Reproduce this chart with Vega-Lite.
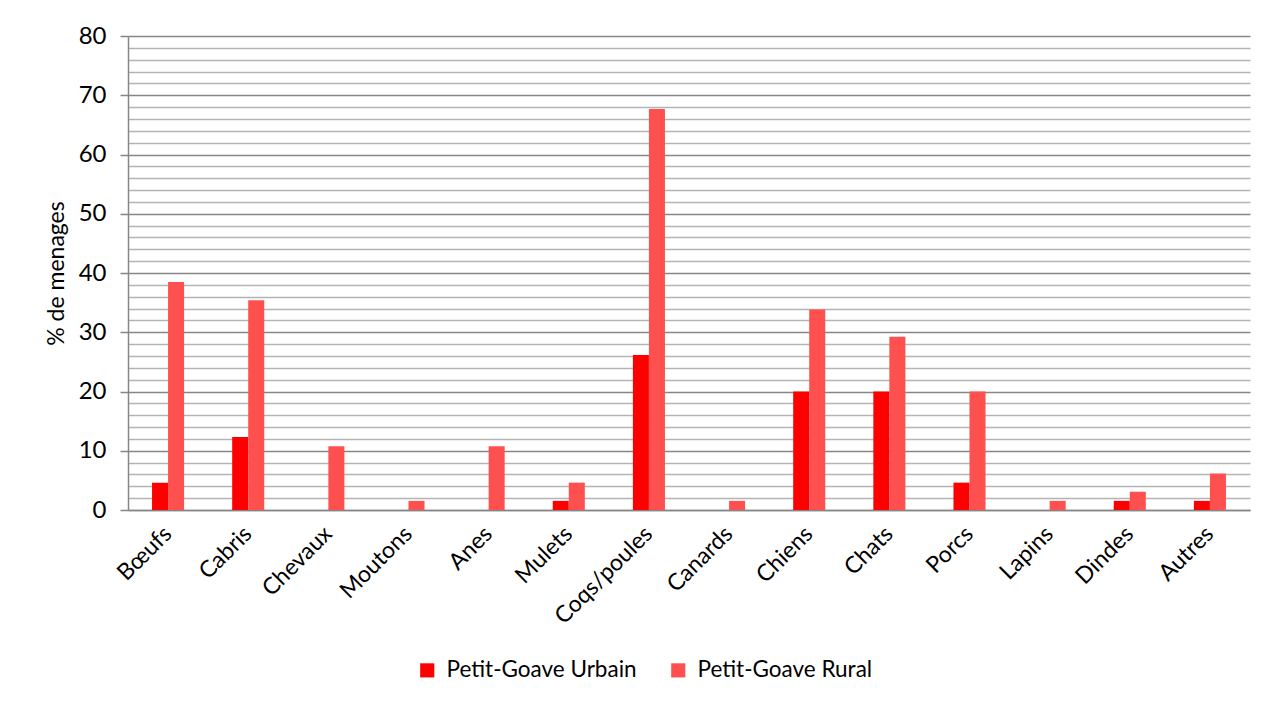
{
  "$schema": "https://vega.github.io/schema/vega-lite/v6.json",
  "width": 1122,
  "height": 474,
  "autosize": {"type": "none"},
  "padding": {"left": 128, "top": 36, "right": 23, "bottom": 208},
  "background": "white",
  "config": {
    "font": "Lato",
    "view": {"stroke": null}
  },
  "data": {
    "values": [
      {"animal": "Bœufs", "zone": "Petit-Goave Urbain", "pct": 4.62},
      {"animal": "Bœufs", "zone": "Petit-Goave Rural", "pct": 38.46},
      {"animal": "Cabris", "zone": "Petit-Goave Urbain", "pct": 12.31},
      {"animal": "Cabris", "zone": "Petit-Goave Rural", "pct": 35.38},
      {"animal": "Chevaux", "zone": "Petit-Goave Urbain", "pct": 0},
      {"animal": "Chevaux", "zone": "Petit-Goave Rural", "pct": 10.77},
      {"animal": "Moutons", "zone": "Petit-Goave Urbain", "pct": 0},
      {"animal": "Moutons", "zone": "Petit-Goave Rural", "pct": 1.54},
      {"animal": "Anes", "zone": "Petit-Goave Urbain", "pct": 0},
      {"animal": "Anes", "zone": "Petit-Goave Rural", "pct": 10.77},
      {"animal": "Mulets", "zone": "Petit-Goave Urbain", "pct": 1.54},
      {"animal": "Mulets", "zone": "Petit-Goave Rural", "pct": 4.62},
      {"animal": "Coqs/poules", "zone": "Petit-Goave Urbain", "pct": 26.15},
      {"animal": "Coqs/poules", "zone": "Petit-Goave Rural", "pct": 67.69},
      {"animal": "Canards", "zone": "Petit-Goave Urbain", "pct": 0},
      {"animal": "Canards", "zone": "Petit-Goave Rural", "pct": 1.54},
      {"animal": "Chiens", "zone": "Petit-Goave Urbain", "pct": 20.0},
      {"animal": "Chiens", "zone": "Petit-Goave Rural", "pct": 33.85},
      {"animal": "Chats", "zone": "Petit-Goave Urbain", "pct": 20.0},
      {"animal": "Chats", "zone": "Petit-Goave Rural", "pct": 29.23},
      {"animal": "Porcs", "zone": "Petit-Goave Urbain", "pct": 4.62},
      {"animal": "Porcs", "zone": "Petit-Goave Rural", "pct": 20.0},
      {"animal": "Lapins", "zone": "Petit-Goave Urbain", "pct": 0},
      {"animal": "Lapins", "zone": "Petit-Goave Rural", "pct": 1.54},
      {"animal": "Dindes", "zone": "Petit-Goave Urbain", "pct": 1.54},
      {"animal": "Dindes", "zone": "Petit-Goave Rural", "pct": 3.08},
      {"animal": "Autres", "zone": "Petit-Goave Urbain", "pct": 1.54},
      {"animal": "Autres", "zone": "Petit-Goave Rural", "pct": 6.15}
    ]
  },
  "mark": {"type": "bar"},
  "encoding": {
    "x": {
      "field": "animal",
      "type": "nominal",
      "sort": null,
      "scale": {"paddingInner": 0.6, "paddingOuter": 0.3},
      "axis": {
        "title": null,
        "labelAngle": -45,
        "labelAlign": "right",
        "labelBaseline": "middle",
        "labelFontSize": 23,
        "labelColor": "#000000",
        "labelPadding": 20,
        "labelLimit": 300,
        "ticks": false,
        "domainColor": "#868686",
        "domainWidth": 1.5,
        "grid": false
      }
    },
    "xOffset": {
      "field": "zone",
      "type": "nominal",
      "sort": ["Petit-Goave Urbain", "Petit-Goave Rural"]
    },
    "y": {
      "field": "pct",
      "type": "quantitative",
      "scale": {"domain": [0, 80], "nice": false},
      "axis": {
        "title": "% de menages",
        "titleFontSize": 23,
        "titleFontWeight": "normal",
        "titleColor": "#000000",
        "titlePadding": 10,
        "values": [0, 2, 4, 6, 8, 10, 12, 14, 16, 18, 20, 22, 24, 26, 28, 30, 32, 34, 36, 38, 40, 42, 44, 46, 48, 50, 52, 54, 56, 58, 60, 62, 64, 66, 68, 70, 72, 74, 76, 78, 80],
        "labelExpr": "datum.value % 10 === 0 ? datum.label : ''",
        "labelFontSize": 24,
        "labelColor": "#000000",
        "labelPadding": 14,
        "tickSize": 8,
        "tickColor": "#868686",
        "tickWidth": 1.5,
        "tickOpacity": {"condition": {"test": "datum.value % 10 === 0", "value": 1}, "value": 0},
        "domainColor": "#868686",
        "domainWidth": 1.5,
        "grid": true,
        "gridColor": {"condition": {"test": "datum.value % 10 === 0", "value": "#868686"}, "value": "#b4b4b4"},
        "gridWidth": 1.5
      }
    },
    "color": {
      "field": "zone",
      "type": "nominal",
      "scale": {
        "domain": ["Petit-Goave Urbain", "Petit-Goave Rural"],
        "range": ["#FF0000", "#FF5050"]
      },
      "legend": {
        "title": null,
        "orient": "none",
        "direction": "horizontal",
        "legendX": 288,
        "legendY": 623,
        "symbolType": "square",
        "symbolSize": 200,
        "symbolStrokeWidth": 0,
        "labelFontSize": 22.5,
        "labelLimit": 400,
        "labelColor": "#000000",
        "labelOffset": 8,
        "columnPadding": 30
      }
    }
  }
}
